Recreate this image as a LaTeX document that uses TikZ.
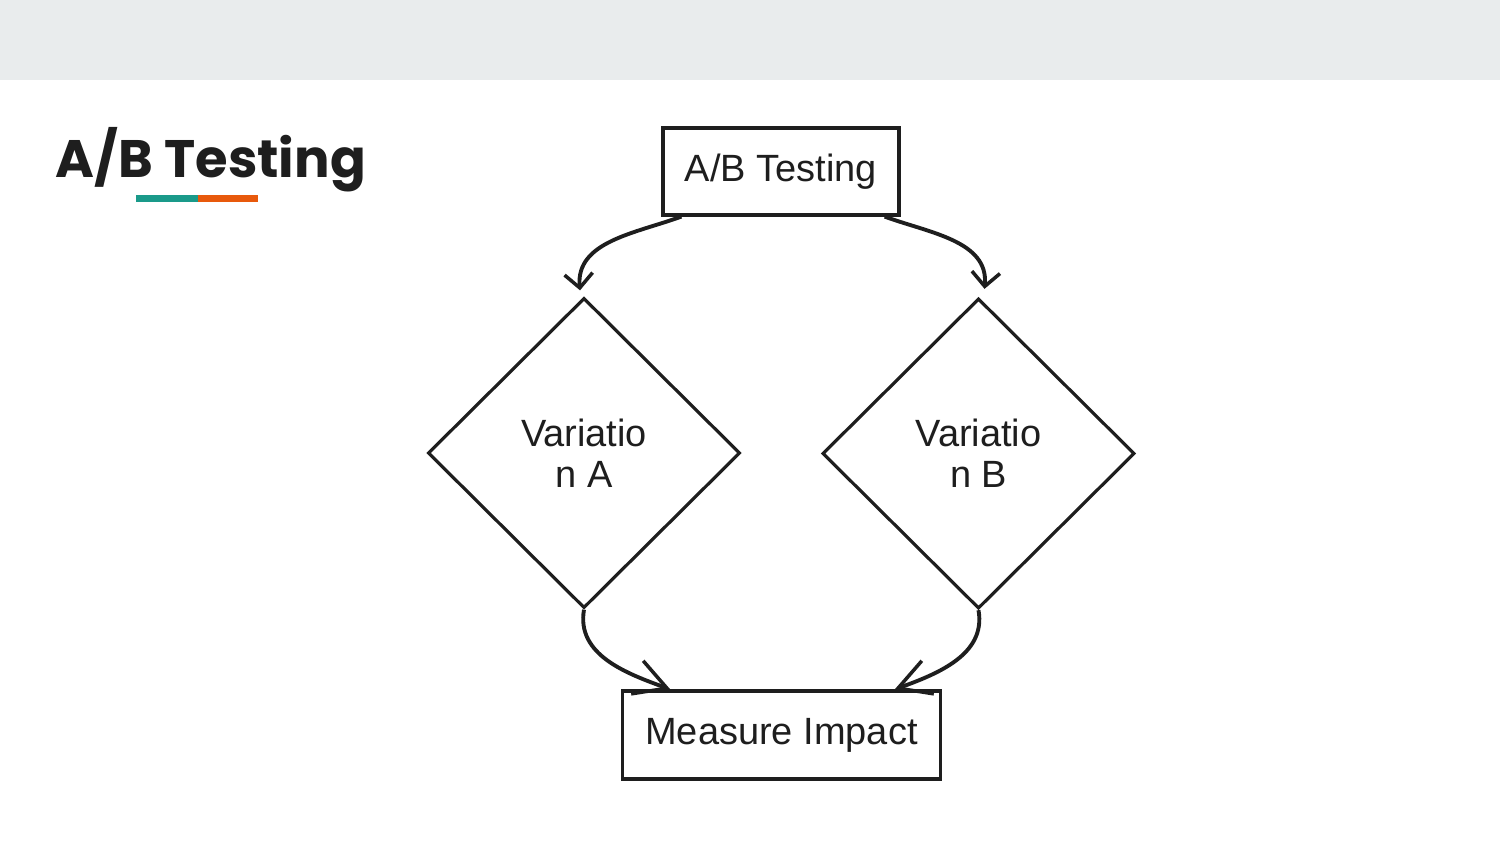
\documentclass[tikz,border=0pt]{standalone}
\usepackage{fontspec}
\setmainfont{Liberation Sans}
\newfontfamily\titlefont{Poppins}
\usepackage{tikz}
\usetikzlibrary{shapes.geometric, arrows.meta, positioning, calc}
\usepackage{xcolor}
\definecolor{cBand}{RGB}{233,236,237}
\definecolor{cInk}{RGB}{30,30,30}
\definecolor{cTeal}{RGB}{26,154,138}
\definecolor{cOrange}{RGB}{232,89,12}
\tikzset{
  basebox/.style={rectangle, draw=cInk, line width=0.9pt, align=center,
                  font=\fontsize{10.8}{11.7}\selectfont, text=cInk},
  stepnode/.style={basebox, minimum width=2.36cm, minimum height=0.87cm},
  endnode/.style={basebox, minimum width=3.17cm, minimum height=0.88cm},
  choicenode/.style={diamond, draw=cInk, line width=0.9pt, align=center,
                     inner sep=0pt, minimum width=3.12cm, minimum height=3.1cm,
                     font=\fontsize{10.8}{11.7}\selectfont, text=cInk},
  arrow/.style={-{Straight Barb[length=4pt, width=8pt, line width=1pt]},
                line width=1.1pt, color=cInk},
  bigarrow/.style={-{Straight Barb[length=9pt, width=10pt, line width=1pt]},
                   line width=1.1pt, color=cInk}
}

\begin{document}
\begin{tikzpicture}[x=0.01cm, y=-0.01cm]
  % Page and header band
  \useasboundingbox (0,0) rectangle (1500,844);
  \fill[white] (0,0) rectangle (1500,844);
  \fill[cBand] (0,0) rectangle (1500,80);

  % Title
  \node[anchor=base west, inner sep=0pt, text=cInk,
        font=\titlefont\bfseries\fontsize{15}{18}\selectfont]
      (title) at (55,177) {A/B Testing};
  \fill[cTeal]   (136,195) rectangle (198,202);
  \fill[cOrange] (198,195) rectangle (258,202);

  % Flow
  \node[stepnode]   (abtest)  at (781,171.5) {A/B Testing};
  \node[choicenode] (varA)    at (584,453)   {Variatio\\n A};
  \node[choicenode] (varB)    at (978.5,453.5) {Variatio\\n B};
  \node[endnode]    (measure) at (781.5,735) {Measure Impact};

  \draw[arrow] ($(abtest.south west)+(20,0)$) to[out=200, in=95] ($(varA.north)+(-4,-6)$);
  \draw[arrow] ($(abtest.south east)+(-16,0)$) to[out=-20, in=85] ($(varB.north)+(6,-8)$);
  \draw[bigarrow] (varA.south) to[out=-100, in=160] ($(measure.north west)+(49,0)$);
  \draw[bigarrow] (varB.south) to[out=-80, in=20] ($(measure.north east)+(-47,0)$);
\end{tikzpicture}
\end{document}
